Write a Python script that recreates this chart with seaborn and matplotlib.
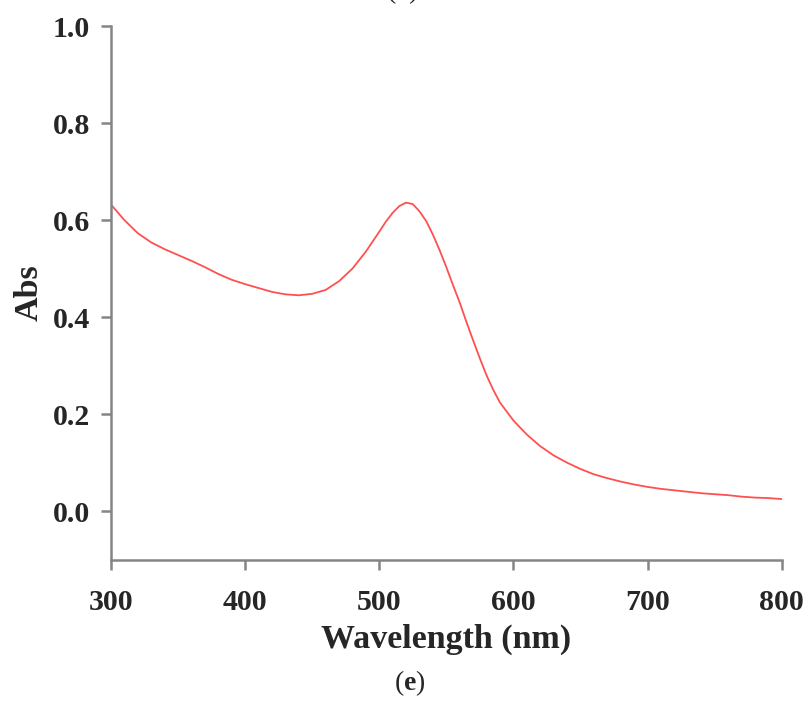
import matplotlib
matplotlib.use("Agg")
import matplotlib.pyplot as plt
import seaborn as sns
import pandas as pd

# UV-vis spectrum
wavelength = [300, 310, 320, 330, 340, 350, 360, 370, 380, 390,
              400, 410, 420, 430, 440, 450, 460, 470, 480, 490,
              500, 505, 510, 515, 520, 525, 530, 535, 540, 545,
              550, 555, 560, 565, 570, 575, 580, 585, 590, 600,
              610, 620, 630, 640, 650, 660, 670, 680, 690, 700,
              710, 720, 730, 740, 750, 760, 770, 780, 790, 800]
absorbance = [0.632, 0.600, 0.573, 0.554, 0.540, 0.528, 0.516, 0.503, 0.489, 0.477,
              0.468, 0.460, 0.452, 0.447, 0.445, 0.448, 0.456, 0.474, 0.500, 0.535,
              0.576, 0.597, 0.615, 0.629, 0.636, 0.633, 0.618, 0.598, 0.570, 0.538,
              0.503, 0.466, 0.430, 0.390, 0.352, 0.315, 0.280, 0.250, 0.224, 0.187,
              0.158, 0.134, 0.115, 0.100, 0.087, 0.076, 0.068, 0.061, 0.055, 0.050,
              0.046, 0.043, 0.040, 0.037, 0.035, 0.033, 0.030, 0.028, 0.027, 0.025]

x_ticks = [300, 400, 500, 600, 700, 800]
y_ticks = [0.0, 0.2, 0.4, 0.6, 0.8, 1.0]

df = pd.DataFrame({"Wavelength": wavelength, "Abs": absorbance})

sns.set_style("ticks")
plt.rcParams['font.family'] = ['Liberation Serif', 'DejaVu Serif']
plt.rcParams['mathtext.fontset'] = 'custom'
plt.rcParams['mathtext.rm'] = 'Liberation Serif'
plt.rcParams['mathtext.bf'] = 'Liberation Serif:bold'

fig = plt.figure(figsize=(8.1, 7.04), dpi=100)
ax = fig.add_axes([0.137, 0.205, 0.828, 0.758])

sns.lineplot(data=df, x="Wavelength", y="Abs", ax=ax, color="#ff5050", linewidth=1.3)

ax.set_xlim(300, 800)
ax.set_ylim(-0.1, 1.0)
ax.set_xticks(x_ticks)
ax.set_yticks(y_ticks)
ax.set_yticklabels(["%.1f" % v for v in y_ticks])

for side in ["top", "right"]:
    ax.spines[side].set_visible(False)
for side in ["left", "bottom"]:
    ax.spines[side].set_color("#858585")
    ax.spines[side].set_linewidth(1.8)

ax.tick_params(axis="both", direction="out", length=7, width=1.8, color="#858585",
               labelsize=21.5, pad=8)
for lab in ax.get_xticklabels() + ax.get_yticklabels():
    lab.set_fontweight("bold")
ax.tick_params(axis="x", pad=14)

ax.set_xlabel("Wavelength (nm)", fontsize=24.5, fontweight="bold", labelpad=6)
ax.set_ylabel("Abs", fontsize=24.5, fontweight="bold", labelpad=6)

fig.text(0.506, 0.03, r"($\mathbf{e}$)", fontsize=20, ha="center", va="center")

fig.text(0.497, 1.012, "(d)", fontsize=20, ha="center", va="center")

fig.savefig("out.png", dpi=100)
